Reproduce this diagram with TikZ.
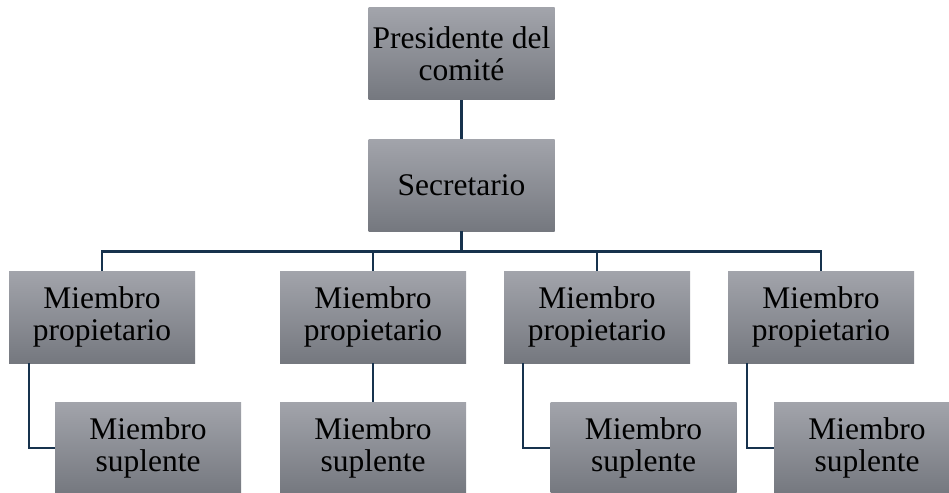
\documentclass[tikz,border=0pt]{standalone}
\usepackage{fontspec}
\setmainfont{Liberation Serif}
\definecolor{ligaazul}{HTML}{17324D}
\definecolor{cajaarriba}{HTML}{A2A4AB}
\definecolor{cajaabajo}{HTML}{75787F}
\begin{document}
\begin{tikzpicture}[x=1pt, y=-1pt,
            puesto/.style={rectangle, top color=cajaarriba, bottom color=cajaabajo, minimum width=186pt, minimum height=92pt, inner sep=0pt, align=center, font=\fontsize{31.5}{32}\selectfont},
            liga/.style={draw=ligaazul, line width=2.6pt}]
            \useasboundingbox (0,0) rectangle (949,492);
            \node[puesto] (pres) at (461.5, 54) {Presidente del\\comité};
            \node[puesto] (sec) at (461.5, 185) {Secretario};
            \node[puesto] (prop1) at (102, 317) {Miembro\\propietario};
            \node[puesto] (prop2) at (373, 317) {Miembro\\propietario};
            \node[puesto] (prop3) at (597, 317) {Miembro\\propietario};
            \node[puesto] (prop4) at (821, 317) {Miembro\\propietario};
            \node[puesto] (sup1) at (148, 448) {Miembro\\suplente};
            \node[puesto] (sup2) at (373, 448) {Miembro\\suplente};
            \node[puesto] (sup3) at (643.5, 448) {Miembro\\suplente};
            \node[puesto] (sup4) at (867, 448) {Miembro\\suplente};
            \draw[liga] (pres.south) -- (sec.north);
            \draw[liga] (sec.south) -- ++(0, 20) coordinate (bus);
            \foreach \p in {prop1, prop2, prop3, prop4}
                \draw[liga] (bus) -| (\p.north);
            \draw[liga] (prop2.south) -- (sup2.north);
            \draw[liga] ([xshift=20pt]prop1.south west) |- (sup1.west);
            \draw[liga] ([xshift=19pt]prop3.south west) |- (sup3.west);
            \draw[liga] ([xshift=19pt]prop4.south west) |- (sup4.west);
        \end{tikzpicture}
\end{document}
